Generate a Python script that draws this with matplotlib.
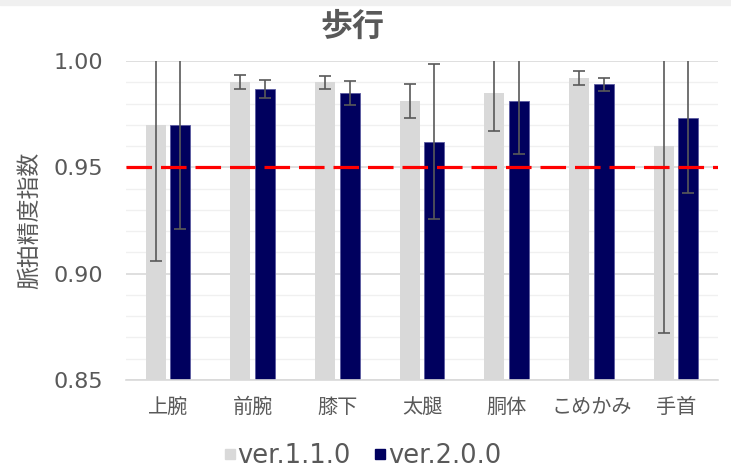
import matplotlib
matplotlib.use('Agg')
import matplotlib.pyplot as plt
from matplotlib.lines import Line2D
from matplotlib.patches import Rectangle
from matplotlib.ticker import MultipleLocator
import numpy as np

plt.rcParams['font.family'] = ['DejaVu Sans', 'Noto Sans CJK JP']

categories = ['上腕', '前腕', '膝下', '太腿', '胴体', 'こめかみ', '手首']
v110 = [0.970, 0.990, 0.990, 0.981, 0.985, 0.992, 0.960]
v110_err = [0.064, 0.0034, 0.003, 0.008, 0.018, 0.0033, 0.088]
v200 = [0.970, 0.987, 0.985, 0.962, 0.981, 0.989, 0.973]
v200_err = [0.049, 0.0042, 0.0055, 0.0365, 0.0248, 0.003, 0.035]
threshold = 0.95
yticks = [0.85, 0.90, 0.95, 1.00]

grey = '#d9d9d9'
navy = '#00005e'
text_col = '#595959'
cjk = ['Noto Sans CJK JP', 'DejaVu Sans']

fig = plt.figure(figsize=(7.31, 4.75), dpi=100)
# thin light band along the top edge of the screenshot
fig.patches.append(Rectangle((0, 1 - 5 / 475), 1, 5 / 475, transform=fig.transFigure,
                             color='#f0f0f0', zorder=0))
ax = fig.add_axes([0.1718, 0.2, 0.811, 0.6716])

x = np.arange(len(categories))
w = 0.235
off = 0.145
ekw = dict(ecolor='#595959', elinewidth=1.2, capsize=4, capthick=1.2)
ax.bar(x - off, v110, w, color=grey, yerr=v110_err, error_kw=ekw, zorder=2)
ax.bar(x + off, v200, w, color=navy, edgecolor='#5a5aa0', linewidth=0.6,
       yerr=v200_err, error_kw=ekw, zorder=2)

ax.axhline(threshold, color='#ff0000', linewidth=2.3, dashes=(8, 2.8), zorder=3)

ax.set_ylim(0.85, 1.00)
ax.set_xlim(-0.5, len(categories) - 0.5)
ax.set_yticks(yticks)
ax.set_yticklabels([f'{t:.2f}' for t in yticks])
ax.yaxis.set_minor_locator(MultipleLocator(0.01))
ax.grid(axis='y', which='major', color='#d9d9d9', linewidth=1.2, zorder=0)
ax.grid(axis='y', which='minor', color='#f0f0f0', linewidth=1.0, zorder=0)
ax.set_axisbelow(True)
for s in ['top', 'right', 'left']:
    ax.spines[s].set_visible(False)
ax.spines['bottom'].set_color('#d9d9d9')
ax.spines['bottom'].set_linewidth(1.2)

ax.set_xticks(x)
ax.set_xticklabels(categories, family=cjk)
ax.tick_params(axis='x', length=0, pad=12, labelsize=14.5, labelcolor=text_col)
ax.tick_params(axis='y', which='both', length=0, pad=16, labelsize=16, labelcolor=text_col)

ax.set_ylabel('脈拍精度指数', fontsize=16.5, color=text_col, labelpad=9, family=cjk)
fig.text(0.482, 0.943, '歩行', fontsize=23, fontweight='bold', color=text_col,
         ha='center', va='center', family=cjk)

handles = [Line2D([], [], marker='s', linestyle='none', markersize=7,
                  markerfacecolor=grey, markeredgecolor=grey),
           Line2D([], [], marker='s', linestyle='none', markersize=7,
                  markerfacecolor=navy, markeredgecolor=navy)]
fig.legend(handles, ['ver.1.1.0', 'ver.2.0.0'], loc='center',
           bbox_to_anchor=(0.496, 0.04), ncol=2, frameon=False, fontsize=18.5,
           labelcolor=text_col, handlelength=0.45, handletextpad=0.08,
           columnspacing=0.9)

fig.savefig('out.png', dpi=100)
